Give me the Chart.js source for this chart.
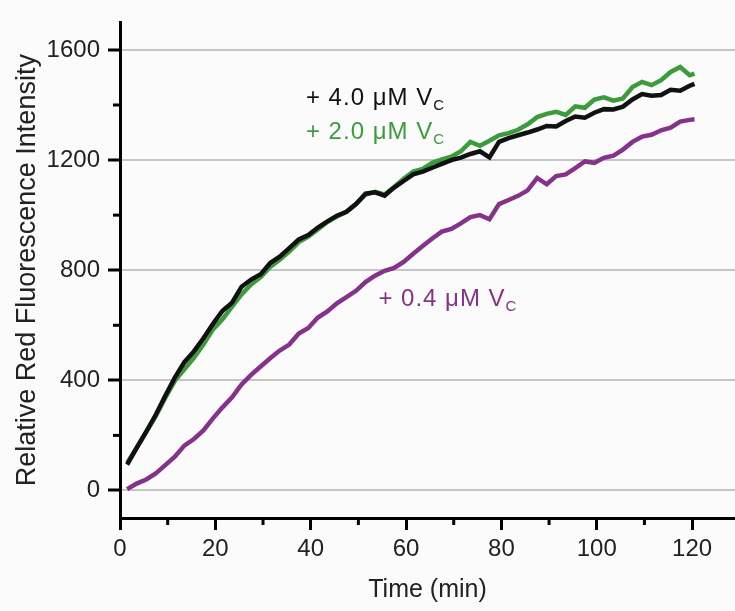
<!DOCTYPE html>
<html lang="en">
  <head>
    <meta charset="UTF-8" />
    <title>Relative Red Fluorescence Intensity</title>
    <script src="https://cdn.jsdelivr.net/npm/chart.js"></script>
    <style>
      body { margin: 0; background: #fbfbfb; }
      #wrap { width: 735px; height: 611px; }
    </style>
  </head>
  <body>
    <div id="wrap"><canvas id="fluoChart"></canvas></div>
    <script>
      // time points (min)
      const times = [1.5, 3.5, 5.5, 7.5, 9.5, 11.5, 13.5, 15.5, 17.5, 19.5, 21.5, 23.5, 25.5, 27.5, 29.5,
        31.5, 33.5, 35.5, 37.5, 39.5, 41.5, 43.5, 45.5, 47.5, 49.5, 51.5, 53.5, 55.5, 57.5, 59.5,
        61.5, 63.5, 65.5, 67.5, 69.5, 71.5, 73.5, 75.5, 77.5, 79.5, 81.5, 83.5, 85.5, 87.5, 89.5,
        91.5, 93.5, 95.5, 97.5, 99.5, 101.5, 103.5, 105.5, 107.5, 109.5, 111.5, 113.5, 115.5, 117.5,
        119.5, 120.5];

      // + 4.0 uM Vc
      const vc40 = [94, 155, 214, 275, 344, 410, 466, 505, 553, 605, 653, 682, 740, 766, 785,
        826, 849, 880, 912, 928, 955, 977, 998, 1012, 1040, 1078, 1083, 1071, 1100, 1124,
        1148, 1158, 1172, 1186, 1200, 1209, 1222, 1232, 1210, 1266, 1280, 1290, 1300, 1311, 1324,
        1322, 1342, 1358, 1354, 1372, 1385, 1384, 1394, 1420, 1440, 1434, 1436, 1455, 1452,
        1470, 1477];

      // + 2.0 uM Vc
      const vc20 = [100, 155, 212, 270, 336, 398, 440, 482, 530, 585, 622, 668, 712, 748, 775,
        812, 838, 868, 902, 922, 948, 975, 995, 1012, 1040, 1075, 1085, 1075, 1102, 1132,
        1158, 1168, 1190, 1202, 1212, 1232, 1266, 1252, 1270, 1290, 1298, 1310, 1330, 1356, 1368,
        1375, 1364, 1395, 1390, 1420, 1428, 1416, 1424, 1465, 1484, 1472, 1490, 1520, 1538,
        1508, 1514];

      // + 0.4 uM Vc
      const vc04 = [5, 25, 40, 62, 92, 123, 163, 187, 218, 262, 302, 338, 385, 420, 450,
        480, 508, 530, 570, 590, 628, 650, 680, 702, 725, 757, 780, 798, 808, 830,
        860, 888, 915, 940, 950, 970, 993, 1000, 985, 1040, 1055, 1070, 1090, 1135, 1112,
        1142, 1148, 1171, 1195, 1190, 1208, 1216, 1238, 1266, 1285, 1292, 1308, 1318, 1340,
        1346, 1348];

      const xTicks = [0, 10, 20, 30, 40, 50, 60, 70, 80, 90, 100, 110, 120];
      const yTicks = [0, 200, 400, 600, 800, 1000, 1200, 1400, 1600];

      // in-plot labels (text + subscript C), anchored in data units
      const labelTexts = ["+ 4.0 μM V", "+ 2.0 μM V", "+ 0.4 μM V"];
      const labelX = [39, 39, 54.2];
      const labelY = [1430, 1304, 699];
      const labelColors = ["#111111", "#3c9c3c", "#85338a"];

      const FONT = "'Liberation Sans', Arial, sans-serif";
      const toPoints = (vals) => vals.map((v, i) => ({ x: times[i], y: v }));
      const isMajorX = (v) => v % 20 === 0;
      const isMajorY = (v) => v % 400 === 0;

      // short ticks for the minor marks
      const minorTicks = {
        id: "minorTicks",
        afterDraw(chart) {
          const ctx = chart.ctx;
          const xs = chart.scales.x, ys = chart.scales.y;
          const area = chart.chartArea;
          ctx.save();
          ctx.strokeStyle = "#000";
          ctx.lineWidth = 3;
          xTicks.filter((v) => !isMajorX(v)).forEach((v) => {
            const px = xs.getPixelForValue(v);
            ctx.beginPath();
            ctx.moveTo(px, area.bottom);
            ctx.lineTo(px, area.bottom + 7);
            ctx.stroke();
          });
          yTicks.filter((v) => !isMajorY(v)).forEach((v) => {
            const py = ys.getPixelForValue(v);
            ctx.beginPath();
            ctx.moveTo(area.left, py);
            ctx.lineTo(area.left - 7, py);
            ctx.stroke();
          });
          ctx.restore();
        },
      };

      // series labels with subscript C
      const seriesLabels = {
        id: "seriesLabels",
        afterDatasetsDraw(chart) {
          const ctx = chart.ctx;
          const xs = chart.scales.x, ys = chart.scales.y;
          ctx.save();
          ctx.textBaseline = "alphabetic";
          ctx.textAlign = "left";
          labelTexts.forEach((txt, i) => {
            const px = xs.getPixelForValue(labelX[i]);
            const py = ys.getPixelForValue(labelY[i]) + 8;
            ctx.fillStyle = labelColors[i];
            ctx.font = "24px " + FONT;
            ctx.letterSpacing = "1px";
            ctx.fillText(txt, px, py);
            const w = ctx.measureText(txt).width;
            ctx.font = "15px " + FONT;
            ctx.letterSpacing = "0px";
            ctx.fillText("C", px + w, py + 5);
          });
          ctx.restore();
        },
      };

      const ctx = document.getElementById("fluoChart").getContext("2d");
      new Chart(ctx, {
        type: "line",
        data: {
          datasets: [
            { label: "+ 4.0 μM Vc", data: toPoints(vc40), borderColor: "#111111", order: 0 },
            { label: "+ 2.0 μM Vc", data: toPoints(vc20), borderColor: "#3c9c3c", order: 1 },
            { label: "+ 0.4 μM Vc", data: toPoints(vc04), borderColor: "#85338a", order: 2 },
          ],
        },
        options: {
          responsive: true,
          maintainAspectRatio: false,
          animation: false,
          layout: { padding: { left: 11, top: 16, right: 0, bottom: 6 } },
          elements: {
            line: { borderWidth: 4.5, tension: 0, fill: false },
            point: { radius: 0 },
          },
          plugins: { legend: { display: false }, tooltip: { enabled: false } },
          scales: {
            x: {
              type: "linear",
              min: 0,
              max: 129,
              afterBuildTicks: (s) => { s.ticks = xTicks.map((v) => ({ value: v })); },
              afterFit: (s) => { s.height = 87; },
              border: { color: "#000", width: 3 },
              grid: {
                drawOnChartArea: false,
                tickLength: 12,
                tickWidth: 3,
                tickColor: (c) => (isMajorX(c.tick.value) ? "#000" : "transparent"),
              },
              ticks: {
                padding: 5,
                color: "#222",
                font: { family: FONT, size: 24 },
                maxRotation: 0,
                autoSkip: false,
                callback: (v) => (isMajorX(v) ? v : ""),
              },
              title: {
                display: true,
                text: "Time (min)",
                color: "#222",
                padding: 0,
                font: { family: FONT, size: 25 },
              },
            },
            y: {
              min: -100,
              max: 1700,
              afterBuildTicks: (s) => { s.ticks = yTicks.map((v) => ({ value: v })); },
              afterFit: (s) => { s.width = 109; },
              border: { color: "#000", width: 3 },
              grid: {
                color: (c) => (isMajorY(c.tick.value) ? "#c6c6c6" : "transparent"),
                lineWidth: 2,
                tickLength: 12,
                tickWidth: 3,
                tickColor: (c) => (isMajorY(c.tick.value) ? "#000" : "transparent"),
              },
              ticks: {
                padding: 8,
                color: "#222",
                font: { family: FONT, size: 24 },
                autoSkip: false,
                callback: (v) => (isMajorY(v) ? v : ""),
              },
              title: {
                display: true,
                text: "Relative Red Fluorescence Intensity",
                color: "#222",
                padding: 0,
                font: { family: FONT, size: 27 },
              },
            },
          },
        },
        plugins: [minorTicks, seriesLabels],
      });
    </script>
  </body>
</html>
